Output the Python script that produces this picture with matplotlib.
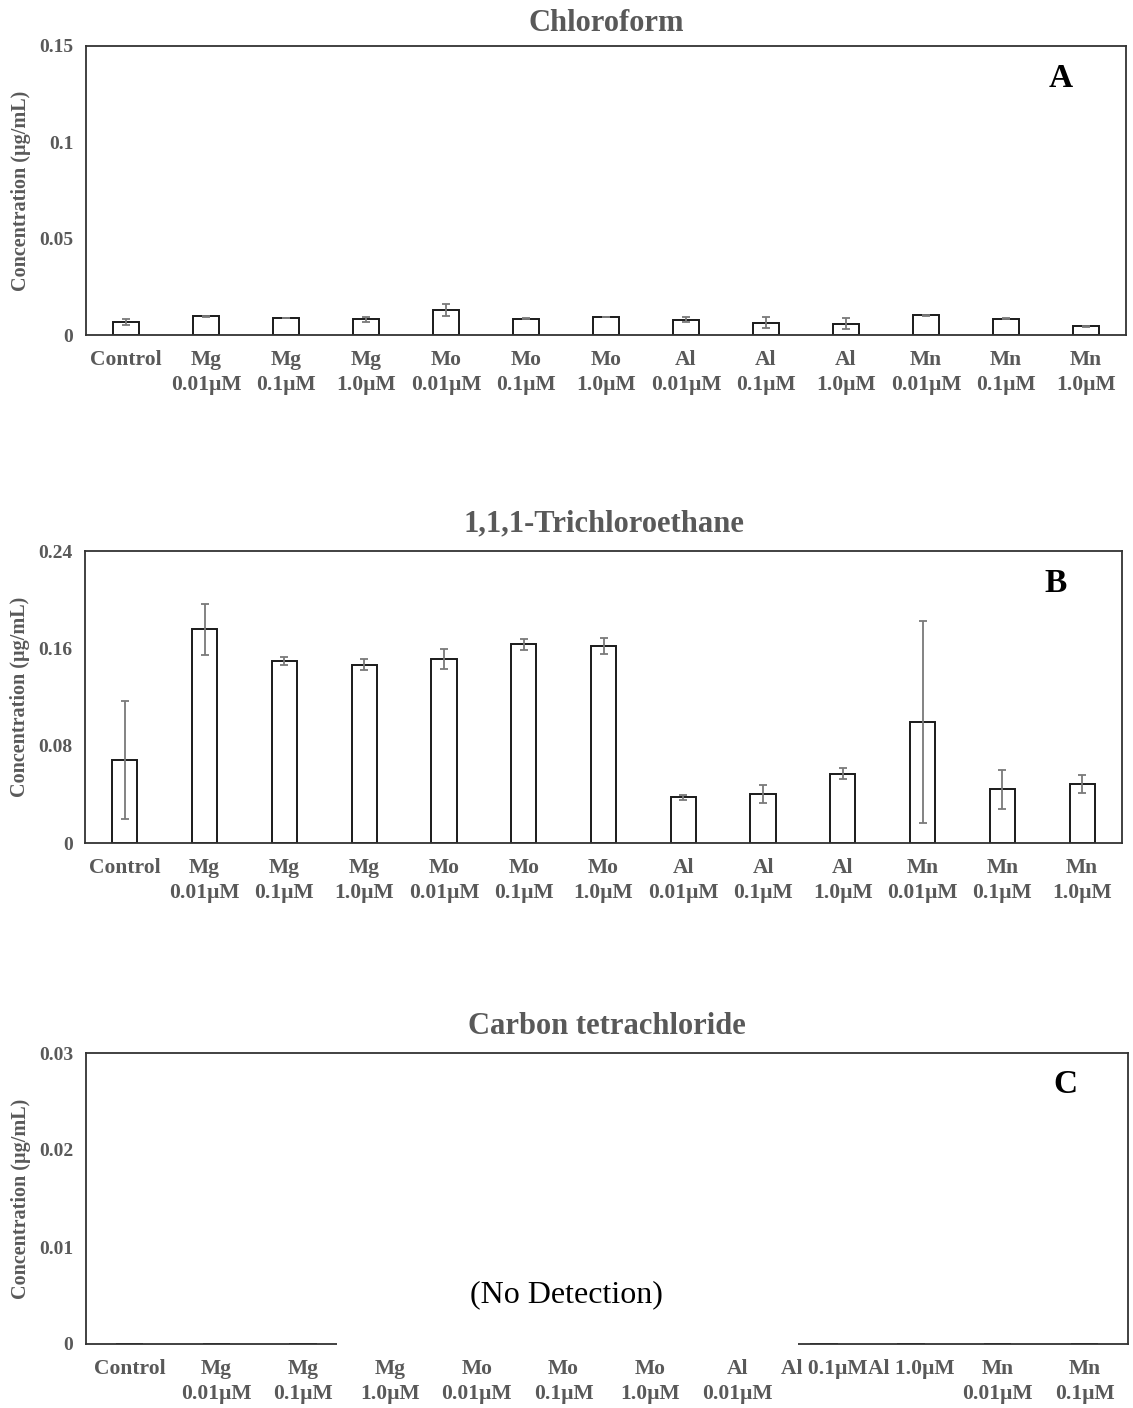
import matplotlib
matplotlib.use("Agg")
import matplotlib.pyplot as plt
from matplotlib.patches import Rectangle
from matplotlib.ticker import FuncFormatter

plt.rcParams['font.family'] = ['Liberation Serif', 'DejaVu Serif']

# categories
labels_ab = ["Control", "Mg\n0.01µM", "Mg\n0.1µM", "Mg\n1.0µM",
             "Mo\n0.01µM", "Mo\n0.1µM", "Mo\n1.0µM",
             "Al\n0.01µM", "Al\n0.1µM", "Al\n1.0µM",
             "Mn\n0.01µM", "Mn\n0.1µM", "Mn\n1.0µM"]
labels_c = ["Control", "Mg\n0.01µM", "Mg\n0.1µM", "Mg\n1.0µM",
            "Mo\n0.01µM", "Mo\n0.1µM", "Mo\n1.0µM",
            "Al\n0.01µM", "Al 0.1µM", "Al 1.0µM",
            "Mn\n0.01µM", "Mn\n0.1µM"]

# Chloroform (ug/mL)
chloroform = [0.0068, 0.0097, 0.0088, 0.0081, 0.0128, 0.0085, 0.0092,
              0.0080, 0.0064, 0.0059, 0.0102, 0.0085, 0.0045]
chloroform_err = [0.0015, 0.0001, 0.0002, 0.0011, 0.0031, 0.0001, 0.0001,
                  0.0013, 0.0030, 0.0029, 0.0002, 0.0003, 0.0001]

# 1,1,1-Trichloroethane (ug/mL)
tca = [0.0681, 0.1757, 0.1497, 0.1467, 0.1513, 0.1634, 0.1618,
       0.0375, 0.0402, 0.0569, 0.0994, 0.0441, 0.0484]
tca_err = [0.0486, 0.0211, 0.0033, 0.0044, 0.0079, 0.0044, 0.0067,
           0.0023, 0.0075, 0.0045, 0.0829, 0.0159, 0.0073]

# Carbon tetrachloride: nothing detected
ccl4 = [0, 0, 0, 0, 0, 0, 0, 0, 0, 0, 0, 0]

GREY = "#595959"
SPINE = "#333333"

W, H = 1133, 1408
fig = plt.figure(figsize=(W / 100, H / 100), dpi=100)


def make_axes(left, right, top, bottom):
    return fig.add_axes([left / W, 1 - bottom / H, (right - left) / W, (bottom - top) / H])


def style_axes(ax, labels, ymax, step, title, letter, lx, ly, title_pad):
    ax.set_xlim(-0.5, len(labels) - 0.5)
    ax.set_ylim(0, ymax)
    ax.set_yticks([step * i for i in range(4)])
    ax.yaxis.set_major_formatter(FuncFormatter(lambda v, p: f"{v:g}"))
    ax.set_xticks(range(len(labels)))
    ax.set_xticklabels(labels, linespacing=1.3)
    ax.tick_params(axis='x', length=0, pad=11, labelsize=15.5, labelcolor=GREY)
    ax.tick_params(axis='y', length=0, pad=9, labelsize=14, labelcolor=GREY)
    for lab in ax.get_xticklabels() + ax.get_yticklabels():
        lab.set_fontweight('bold')
    for s in ax.spines.values():
        s.set_color(SPINE)
        s.set_linewidth(1.3)
    ax.set_ylabel("Concentration (µg/mL)", fontsize=14.5, fontweight='bold',
                  color=GREY, labelpad=6)
    ax.set_title(title, fontsize=22, fontweight='bold', color=GREY, pad=title_pad)
    ax.text(lx, ly, letter, transform=ax.transAxes, fontsize=24,
            fontweight='bold', color='black', ha='center', va='center')


def draw_bars(ax, values, errs):
    x = range(len(values))
    ax.bar(x, values, width=0.315, color='white', edgecolor='#1a1a1a',
           linewidth=1.4, zorder=2)
    if errs is not None:
        ax.errorbar(x, values, yerr=errs, fmt='none', ecolor='#7a7a7a',
                    elinewidth=1.3, capsize=2.6, capthick=1.3, zorder=3)


# Panel A
axA = make_axes(86, 1126, 46, 335)
draw_bars(axA, chloroform, chloroform_err)
style_axes(axA, labels_ab, 0.15, 0.05, "Chloroform", "A", 0.937, 0.889, 11)

# Panel B
axB = make_axes(85, 1122, 551, 843)
draw_bars(axB, tca, tca_err)
style_axes(axB, labels_ab, 0.24, 0.08, "1,1,1-Trichloroethane", "B", 0.936, 0.887, 14)

# Panel C
axC = make_axes(86, 1128, 1053, 1344)
draw_bars(axC, ccl4, None)
style_axes(axC, labels_c, 0.03, 0.01, "Carbon tetrachloride", "C", 0.940, 0.893, 14)
# white text box that hides part of the baseline
axC.add_patch(Rectangle((0.241, -0.03), 0.442, 0.40, transform=axC.transAxes,
                        facecolor='white', edgecolor='none', clip_on=False, zorder=5))
axC.text(0.461, 0.168, "(No Detection)", transform=axC.transAxes, fontsize=23,
         color='black', ha='center', va='center', zorder=6)

fig.savefig("out.png", dpi=100)
